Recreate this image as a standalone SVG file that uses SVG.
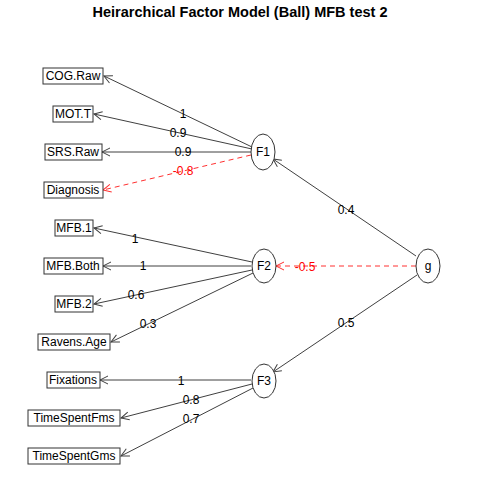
<svg xmlns="http://www.w3.org/2000/svg" width="480" height="480" viewBox="0 0 480 480">
<style>
.t{font-family:"Liberation Sans",Arial,sans-serif;font-size:12px;fill:#000;text-anchor:middle;dominant-baseline:central}
.title{font-family:"Liberation Sans",Arial,sans-serif;font-size:14.5px;font-weight:bold;fill:#000;text-anchor:middle}
.box{fill:#fff;stroke:#333;stroke-width:1}
.ell{fill:#fff;stroke:#333;stroke-width:1}
.e{stroke:#404040;stroke-width:1;fill:none;marker-end:url(#a)}
.n{stroke:#ff3030;stroke-width:1;fill:none;stroke-dasharray:5,4;marker-end:url(#ar)}
.lr{fill:#ff0000}
</style>
<defs>
<marker id="a" markerUnits="userSpaceOnUse" markerWidth="12" markerHeight="12" viewBox="-10 -6 12 12" refX="0" refY="0" orient="auto" overflow="visible">
<path d="M-8,-4 L0,0 L-8,4" fill="none" stroke="#404040" stroke-width="1"/>
</marker>
<marker id="ar" markerUnits="userSpaceOnUse" markerWidth="12" markerHeight="12" viewBox="-10 -6 12 12" refX="0" refY="0" orient="auto" overflow="visible">
<path d="M-8,-4 L0,0 L-8,4" fill="none" stroke="#ff3030" stroke-width="1"/>
</marker>
</defs>
<rect width="480" height="480" fill="#fff"/>
<text class="title" x="240" y="17">Heirarchical Factor Model (Ball) MFB test 2</text>
<g id="connectors">
<line class="e" x1="252" y1="147" x2="104" y2="76"/>
<line class="e" x1="252" y1="149" x2="94" y2="114"/>
<line class="e" x1="251" y1="152" x2="102" y2="152"/>
<line class="n" x1="251" y1="155" x2="103" y2="190"/>
<line class="e" x1="252" y1="262" x2="94" y2="228"/>
<line class="e" x1="251" y1="266" x2="103" y2="266"/>
<line class="e" x1="252" y1="270" x2="94" y2="304"/>
<line class="e" x1="253" y1="273" x2="111" y2="342"/>
<line class="e" x1="251" y1="380" x2="100" y2="380"/>
<line class="e" x1="252" y1="384" x2="121" y2="418"/>
<line class="e" x1="253" y1="388" x2="121" y2="456"/>
<line class="e" x1="416" y1="256" x2="273" y2="159"/>
<line class="n" x1="416" y1="266" x2="276" y2="266"/>
<line class="e" x1="417" y1="275" x2="273" y2="372"/>
<text class="t" x="183" y="114">1</text>
<text class="t" x="178" y="133">0.9</text>
<text class="t" x="183" y="152">0.9</text>
<text class="t lr" x="183" y="171">-0.8</text>
<text class="t" x="135" y="239">1</text>
<text class="t" x="143" y="266">1</text>
<text class="t" x="136" y="295">0.6</text>
<text class="t" x="148" y="324">0.3</text>
<text class="t" x="181" y="381">1</text>
<text class="t" x="191" y="400">0.8</text>
<text class="t" x="191" y="419">0.7</text>
<text class="t" x="346" y="210">0.4</text>
<text class="t lr" x="305" y="267">-0.5</text>
<text class="t" x="346" y="323">0.5</text>
</g>
<g id="COG.Raw"><rect class="box" x="43" y="68" width="60" height="16"/><text class="t" x="73" y="76">COG.Raw</text></g>
<g id="MOT.T"><rect class="box" x="53" y="106" width="40" height="16"/><text class="t" x="73" y="114">MOT.T</text></g>
<g id="SRS.Raw"><rect class="box" x="45" y="144" width="57" height="16"/><text class="t" x="73" y="152">SRS.Raw</text></g>
<g id="Diagnosis"><rect class="box" x="44" y="182" width="59" height="16"/><text class="t" x="73" y="190">Diagnosis</text></g>
<g id="MFB.1"><rect class="box" x="55" y="220" width="38" height="16"/><text class="t" x="74" y="228">MFB.1</text></g>
<g id="MFB.Both"><rect class="box" x="44" y="258" width="59" height="16"/><text class="t" x="73" y="266">MFB.Both</text></g>
<g id="MFB.2"><rect class="box" x="55" y="296" width="38" height="16"/><text class="t" x="74" y="304">MFB.2</text></g>
<g id="Ravens.Age"><rect class="box" x="38" y="334" width="72" height="16"/><text class="t" x="74" y="342">Ravens.Age</text></g>
<g id="Fixations"><rect class="box" x="47" y="372" width="53" height="16"/><text class="t" x="73" y="380">Fixations</text></g>
<g id="TimeSpentFms"><rect class="box" x="28" y="410" width="92" height="16"/><text class="t" x="74" y="418">TimeSpentFms</text></g>
<g id="TimeSpentGms"><rect class="box" x="28" y="448" width="92" height="16"/><text class="t" x="74" y="456">TimeSpentGms</text></g>
<g id="F1"><ellipse class="ell" cx="263" cy="152" rx="12" ry="18"/><text class="t" x="263" y="152">F1</text></g>
<g id="F2"><ellipse class="ell" cx="264" cy="266" rx="12" ry="17"/><text class="t" x="264" y="266">F2</text></g>
<g id="F3"><ellipse class="ell" cx="264" cy="381" rx="12" ry="17"/><text class="t" x="264" y="381">F3</text></g>
<g id="g"><ellipse class="ell" cx="428" cy="266" rx="12" ry="17"/><text class="t" x="428" y="266">g</text></g>
</svg>
